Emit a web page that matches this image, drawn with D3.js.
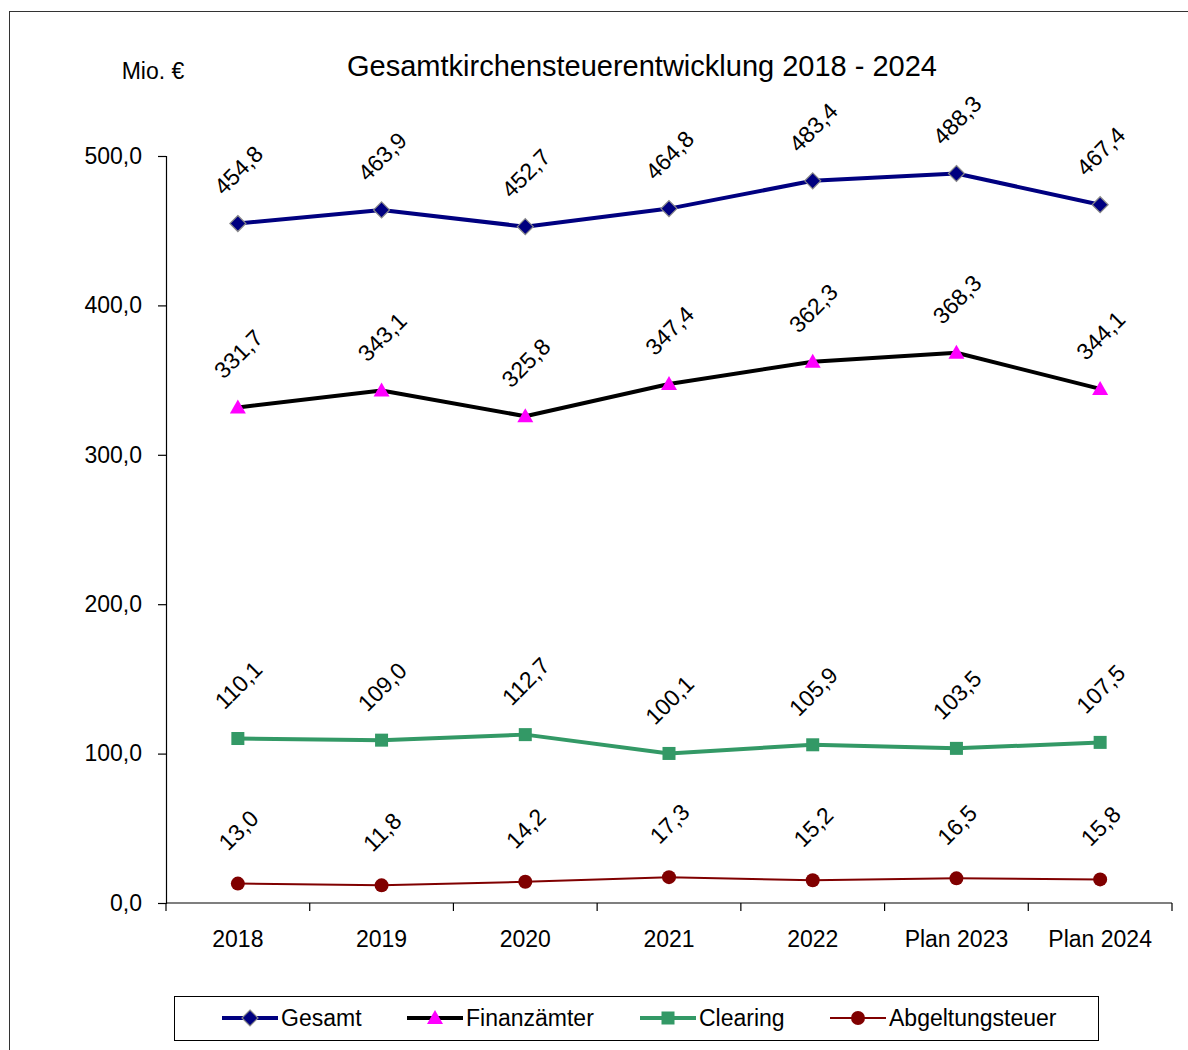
<!DOCTYPE html>
<html>
<head>
<meta charset="utf-8">
<script src="https://cdn.jsdelivr.net/npm/d3@7"></script>
<style>
  html, body { margin: 0; padding: 0; background: #fff; }
  svg { display: block; font-family: "Liberation Sans Narrow", "Arial Narrow", "Liberation Sans", sans-serif; }
</style>
</head>
<body>
<svg id="chart" width="1188" height="1050"></svg>
<script>
// Categories and series (Mio. €)
const categories = ["2018", "2019", "2020", "2021", "2022", "Plan 2023", "Plan 2024"];
const gesamt = [454.8, 463.9, 452.7, 464.8, 483.4, 488.3, 467.4];
const finanzaemter = [331.7, 343.1, 325.8, 347.4, 362.3, 368.3, 344.1];
const clearing = [110.1, 109.0, 112.7, 100.1, 105.9, 103.5, 107.5];
const abgeltungsteuer = [13.0, 11.8, 14.2, 17.3, 15.2, 16.5, 15.8];
const yTicks = [0, 100, 200, 300, 400, 500];

const seriesNames = ["Gesamt", "Finanzämter", "Clearing", "Abgeltungsteuer"];
const seriesValues = [gesamt, finanzaemter, clearing, abgeltungsteuer];

const styles = [
  { line: "#000080", width: 4, marker: "diamond", fill: "#000080", stroke: "#8a8a8a" },
  { line: "#000000", width: 4, marker: "triangle", fill: "#ff00ff", stroke: "none" },
  { line: "#339966", width: 4, marker: "square", fill: "#339966", stroke: "none" },
  { line: "#800000", width: 2, marker: "circle", fill: "#800000", stroke: "none" }
];

const fmt = v => d3.format(".1f")(v).replace(".", ",");

const svg = d3.select("#chart");

// outer frame
svg.append("rect").attr("x", 9.5).attr("y", 11.5).attr("width", 1200).attr("height", 1060)
  .attr("fill", "none").attr("stroke", "#333").attr("stroke-width", 1);

const plot = { left: 166, right: 1172, top: 156, bottom: 903 };

const x = d3.scaleBand().domain(categories).range([plot.left, plot.right]).padding(0);
const y = d3.scaleLinear().domain([0, 500]).range([plot.bottom, plot.top]);
const cx = c => x(c) + x.bandwidth() / 2;

// title and unit
svg.append("text").attr("x", 642).attr("y", 76).attr("text-anchor", "middle")
  .attr("font-size", 29).attr("fill", "#000").text("Gesamtkirchensteuerentwicklung 2018 - 2024");
svg.append("text").attr("x", 153).attr("y", 79).attr("text-anchor", "middle")
  .attr("font-size", 23).attr("fill", "#000").text("Mio. €");

// y axis
const yAxis = d3.axisLeft(y).tickValues(yTicks).tickSize(8).tickPadding(16).tickFormat(fmt);
const gy = svg.append("g").attr("transform", `translate(${plot.left},0)`).call(yAxis);
gy.select(".domain").attr("stroke", "#000").attr("stroke-width", 1.2);
gy.selectAll(".tick line").attr("stroke", "#000").attr("stroke-width", 1.2);
gy.selectAll(".tick text").attr("font-size", 23).attr("fill", "#000")
  .attr("font-family", "\"Liberation Sans Narrow\", sans-serif");

// x axis with ticks at band boundaries
const gx = svg.append("g").attr("transform", `translate(0,${plot.bottom})`);
gx.append("line").attr("x1", plot.left).attr("x2", plot.right).attr("y1", 0).attr("y2", 0)
  .attr("stroke", "#000").attr("stroke-width", 1.2);
const bounds = categories.map(c => x(c)).concat([plot.right]);
gx.selectAll("line.tk").data(bounds).join("line").attr("class", "tk")
  .attr("x1", d => d).attr("x2", d => d).attr("y1", 0).attr("y2", 8)
  .attr("stroke", "#000").attr("stroke-width", 1.2);
gx.selectAll("text").data(categories).join("text")
  .attr("x", d => cx(d)).attr("y", 44).attr("text-anchor", "middle")
  .attr("font-size", 23).attr("fill", "#000").text(d => d);

// marker shapes
function drawMarker(g, type, s, px, py) {
  let el;
  if (type === "diamond") {
    el = g.append("path").attr("d", `M${px},${py - 8}L${px + 8},${py}L${px},${py + 8}L${px - 8},${py}Z`);
  } else if (type === "triangle") {
    el = g.append("path").attr("d", `M${px},${py - 8}L${px + 8},${py + 6}L${px - 8},${py + 6}Z`);
  } else if (type === "square") {
    el = g.append("rect").attr("x", px - 6.5).attr("y", py - 6.5).attr("width", 13).attr("height", 13);
  } else {
    el = g.append("circle").attr("cx", px).attr("cy", py).attr("r", 7);
  }
  el.attr("fill", s.fill).attr("stroke", s.stroke).attr("stroke-width", s.stroke === "none" ? 0 : 1.2);
  return el;
}

const line = d3.line().x((d, i) => cx(categories[i])).y(d => y(d));

seriesValues.forEach((vals, si) => {
  const s = styles[si];
  const g = svg.append("g");
  g.append("path").datum(vals).attr("d", line).attr("fill", "none")
    .attr("stroke", s.line).attr("stroke-width", s.width).attr("stroke-linejoin", "round");
  vals.forEach((v, i) => drawMarker(g, s.marker, s, cx(categories[i]), y(v)));
  // value labels, rotated
  g.selectAll("text").data(vals).join("text")
    .attr("transform", (d, i) => `translate(${cx(categories[i]) + 2},${y(d) - 52}) rotate(-45)`)
    .attr("text-anchor", "middle").attr("dominant-baseline", "middle")
    .attr("font-size", 23).attr("fill", "#000").text(d => fmt(d));
});

// legend
const lg = svg.append("g");
lg.append("rect").attr("x", 174.5).attr("y", 996.5).attr("width", 924).attr("height", 44)
  .attr("fill", "#fff").attr("stroke", "#000").attr("stroke-width", 1);
const legendX = [222, 407, 640, 830];
seriesNames.forEach((name, si) => {
  const s = styles[si];
  const lx = legendX[si], ly = 1018;
  lg.append("line").attr("x1", lx).attr("x2", lx + 56).attr("y1", ly).attr("y2", ly)
    .attr("stroke", s.line).attr("stroke-width", s.width);
  drawMarker(lg, s.marker, s, lx + 28, ly);
  lg.append("text").attr("x", lx + 59).attr("y", ly + 8).attr("font-size", 23)
    .attr("fill", "#000").text(name);
});
</script>
</body>
</html>
